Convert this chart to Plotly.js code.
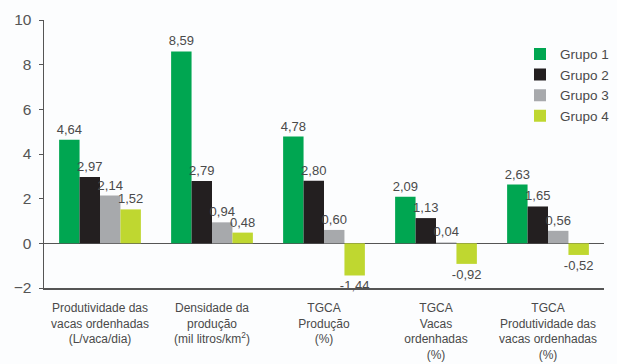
<!DOCTYPE html>
<html>
<head>
<meta charset="utf-8">
<script src="https://cdn.plot.ly/plotly-3.0.1.min.js"></script>
<style>html,body{margin:0;padding:0;background:#fcfdfe;}</style>
</head>
<body>
<div id="chart" style="width:617px;height:364px;"></div>
<script>
const categories = [
  "Produtividade das<br>vacas ordenhadas<br>(L/vaca/dia)",
  "Densidade da<br>produção<br>(mil litros/km<sup>2</sup>)",
  "TGCA<br>Produção<br>(%)",
  "TGCA<br>Vacas<br>ordenhadas<br>(%)",
  "TGCA<br>Produtividade das<br>vacas ordenhadas<br>(%)"
];
const seriesNames = ["Grupo 1", "Grupo 2", "Grupo 3", "Grupo 4"];
const grupo1 = [4.64, 8.59, 4.78, 2.09, 2.63];
const grupo2 = [2.97, 2.79, 2.80, 1.13, 1.65];
const grupo3 = [2.14, 0.94, 0.60, 0.04, 0.56];
const grupo4 = [1.52, 0.48, -1.44, -0.92, -0.52];
const colors = ["#00a651", "#231f20", "#a7a9ac", "#bfd730"];
const yTicks = [-2, 0, 2, 4, 6, 8, 10];

const allSeries = [grupo1, grupo2, grupo3, grupo4];
const traces = allSeries.map((vals, i) => ({
  type: "bar",
  name: seriesNames[i],
  x: categories,
  y: vals,
  marker: {color: colors[i]},
  texttemplate: "%{y:.2f}",
  textposition: "outside",
  constraintext: "none",
  textfont: {size: 13, color: "#4a4a4a", family: "Liberation Sans, Arial, sans-serif"},
  cliponaxis: false,
  hoverinfo: "none"
}));

const layout = {
  width: 617, height: 364,
  margin: {l: 44, r: 2, t: 20, b: 76},
  paper_bgcolor: "#fcfdfe",
  plot_bgcolor: "#fcfdfe",
  separators: ",.",
  barmode: "group",
  bargap: 0.27,
  bargroupgap: 0,
  font: {family: "Liberation Sans, Arial, sans-serif", color: "#4a4a4a"},
  showlegend: true,
  legend: {x: 0.85, y: 0.93, xanchor: "left", yanchor: "top",
           font: {size: 13.5, color: "#4a4a4a"}, bgcolor: "rgba(0,0,0,0)",
           tracegroupgap: 0, itemwidth: 30},
  xaxis: {
    showline: true, linecolor: "#555", linewidth: 1.5,
    ticks: "", showgrid: false, zeroline: false,
    tickfont: {size: 12, color: "#4a4a4a"},
    ticklabelstandoff: 8,
    automargin: false
  },
  yaxis: {
    range: [-2, 10], tickvals: yTicks,
    showline: true, linecolor: "#555", linewidth: 1.5,
    ticks: "outside", ticklen: 4, tickcolor: "#555",
    showgrid: false,
    zeroline: true, zerolinecolor: "#555", zerolinewidth: 1.5,
    tickfont: {size: 15.5, color: "#555"},
    ticklabelstandoff: 4,
    automargin: false
  }
};

Plotly.newPlot("chart", traces, layout, {displayModeBar: false, staticPlot: true});
</script>
</body>
</html>
